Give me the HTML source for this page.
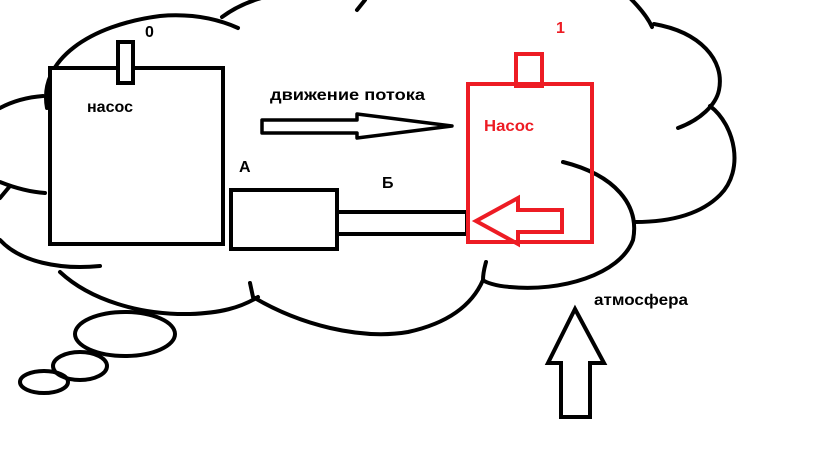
<!DOCTYPE html>
<html><head><meta charset="utf-8"><style>
html,body{margin:0;padding:0;background:#fff;width:816px;height:460px;overflow:hidden}
svg{display:block}
text{font-family:"Liberation Sans","DejaVu Sans",sans-serif;font-weight:bold}
</style></head><body>
<svg width="816" height="460" viewBox="0 0 816 460">
<g fill="none" stroke="#000" stroke-width="4" stroke-linecap="round">
<!-- cloud -->
<path d="M47,108 C38,60 90,25 160,16 C195,13 220,20 238,28"/>
<path d="M222,17 C245,0 270,-5 290,-8"/>
<path d="M357,10 L365,0"/>
<path d="M630,-2 C640,8 648,18 652,27"/>
<path d="M654,24 C700,32 725,60 719,90 C716,105 700,120 678,128"/>
<path d="M710,106 C735,125 745,170 720,195 C700,215 670,222 635,222"/>
<path d="M563,162 C615,175 640,205 633,240 C620,275 560,292 510,287 C495,286 485,282 483,280 C483,272 485,266 486,262"/>
<path d="M483,280 C470,310 440,325 408,332 C360,340 300,325 253,297 L250,283"/>
<path d="M60,272 C90,300 140,315 190,314 C220,313 240,308 258,297"/>
<path d="M0,240 C20,262 60,270 100,266"/>
<path d="M0,108 C15,100 30,97 43,96"/>
<path d="M0,182 C15,188 30,192 45,193"/>
<path d="M0,198 L10,186"/>
<ellipse cx="125" cy="334" rx="50" ry="22"/>
<ellipse cx="80" cy="366" rx="27" ry="14"/>
<ellipse cx="44" cy="382" rx="24" ry="11"/>
</g>
<g fill="none" stroke="#000" stroke-width="4">
<rect x="50" y="68" width="173" height="176" fill="#fff"/>
<rect x="118" y="42" width="15" height="41" fill="#fff"/>
<rect x="231" y="190" width="106" height="59"/>
<rect x="337" y="212" width="130" height="22"/>
<path d="M262,120 L357,120 L357,114 L452,126 L357,138 L357,133 L262,133 Z" stroke-width="3.5" stroke-linejoin="round"/>
<path d="M575,309 L548,363 L561,363 L561,417 L590,417 L590,363 L604,363 Z"/>
</g>
<g fill="none" stroke="#ed1c24" stroke-width="4">
<rect x="468" y="84" width="124" height="158"/>
<rect x="516" y="54" width="26" height="32"/>
<path d="M476,221 L518,198 L518,210 L562,210 L562,232 L518,232 L518,244 Z"/>
</g>
<text x="145" y="37" font-size="16" fill="#000">0</text>
<text x="87" y="112" font-size="16" fill="#000" textLength="46" lengthAdjust="spacingAndGlyphs">насос</text>
<text x="270" y="100" font-size="16" fill="#000" textLength="155" lengthAdjust="spacingAndGlyphs">движение потока</text>
<text x="239" y="172" font-size="16" fill="#000">А</text>
<text x="382" y="188" font-size="16" fill="#000">Б</text>
<text x="556" y="33" font-size="16" fill="#ed1c24">1</text>
<text x="484" y="131" font-size="16" fill="#ed1c24" textLength="50" lengthAdjust="spacingAndGlyphs">Насос</text>
<text x="594" y="305" font-size="16" fill="#000" textLength="94" lengthAdjust="spacingAndGlyphs">атмосфера</text>
</svg>
</body></html>
